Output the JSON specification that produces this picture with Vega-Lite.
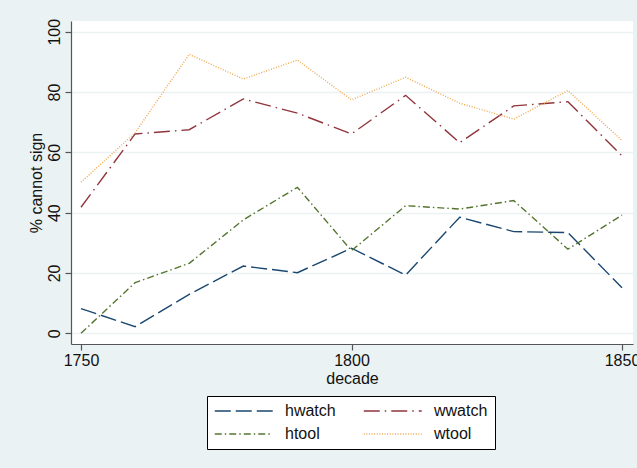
{
  "$schema": "https://vega.github.io/schema/vega-lite/v6.json",
  "width": 562,
  "height": 323,
  "autosize": {"type": "none"},
  "padding": {"left": 71, "top": 21, "right": 4, "bottom": 124},
  "background": "#EAF2F3",
  "config": {
    "font": "Liberation Sans",
    "view": {"fill": "white", "stroke": null},
    "axis": {
      "labelFont": "Liberation Sans",
      "titleFont": "Liberation Sans",
      "labelFontSize": 16,
      "titleFontSize": 16,
      "labelColor": "#111111",
      "titleColor": "#111111",
      "titleFontWeight": "normal",
      "domainColor": "#555555",
      "tickColor": "#555555",
      "domainWidth": 1.2,
      "tickWidth": 1.2,
      "tickSize": 6
    },
    "legend": {
      "labelFont": "Liberation Sans",
      "labelFontSize": 16,
      "labelColor": "#111111"
    }
  },
  "data": {
    "values": [
      {"decade": 1750, "series": "hwatch", "value": 8.2},
      {"decade": 1760, "series": "hwatch", "value": 2.2},
      {"decade": 1770, "series": "hwatch", "value": 12.9},
      {"decade": 1780, "series": "hwatch", "value": 22.3},
      {"decade": 1790, "series": "hwatch", "value": 20.1},
      {"decade": 1800, "series": "hwatch", "value": 28.2},
      {"decade": 1810, "series": "hwatch", "value": 19.3},
      {"decade": 1820, "series": "hwatch", "value": 38.5},
      {"decade": 1830, "series": "hwatch", "value": 33.7},
      {"decade": 1840, "series": "hwatch", "value": 33.4},
      {"decade": 1850, "series": "hwatch", "value": 15.1},
      {"decade": 1750, "series": "wwatch", "value": 41.8},
      {"decade": 1760, "series": "wwatch", "value": 66.1},
      {"decade": 1770, "series": "wwatch", "value": 67.5},
      {"decade": 1780, "series": "wwatch", "value": 77.7},
      {"decade": 1790, "series": "wwatch", "value": 73.0},
      {"decade": 1800, "series": "wwatch", "value": 66.1},
      {"decade": 1810, "series": "wwatch", "value": 78.9},
      {"decade": 1820, "series": "wwatch", "value": 63.2},
      {"decade": 1830, "series": "wwatch", "value": 75.4},
      {"decade": 1840, "series": "wwatch", "value": 76.8},
      {"decade": 1850, "series": "wwatch", "value": 58.8},
      {"decade": 1750, "series": "htool", "value": 0.0},
      {"decade": 1760, "series": "htool", "value": 16.8},
      {"decade": 1770, "series": "htool", "value": 23.2},
      {"decade": 1780, "series": "htool", "value": 37.6},
      {"decade": 1790, "series": "htool", "value": 48.4},
      {"decade": 1800, "series": "htool", "value": 27.4},
      {"decade": 1810, "series": "htool", "value": 42.3},
      {"decade": 1820, "series": "htool", "value": 41.2},
      {"decade": 1830, "series": "htool", "value": 44.0},
      {"decade": 1840, "series": "htool", "value": 27.9},
      {"decade": 1850, "series": "htool", "value": 39.2},
      {"decade": 1750, "series": "wtool", "value": 50.1},
      {"decade": 1760, "series": "wtool", "value": 66.5},
      {"decade": 1770, "series": "wtool", "value": 92.5},
      {"decade": 1780, "series": "wtool", "value": 84.3},
      {"decade": 1790, "series": "wtool", "value": 90.6},
      {"decade": 1800, "series": "wtool", "value": 77.4},
      {"decade": 1810, "series": "wtool", "value": 84.9},
      {"decade": 1820, "series": "wtool", "value": 76.3},
      {"decade": 1830, "series": "wtool", "value": 71.0},
      {"decade": 1840, "series": "wtool", "value": 80.5},
      {"decade": 1850, "series": "wtool", "value": 63.9}
    ]
  },
  "mark": {"type": "line", "strokeWidth": 1.4},
  "encoding": {
    "x": {
      "field": "decade",
      "type": "quantitative",
      "scale": {"domain": [1748.15, 1852.03], "nice": false, "zero": false},
      "axis": {
        "values": [1750, 1800, 1850],
        "format": "d",
        "grid": false,
        "title": "decade",
        "labelPadding": 2,
        "titlePadding": 2
      }
    },
    "y": {
      "field": "value",
      "type": "quantitative",
      "scale": {"domain": [-3.55, 103.55], "nice": false, "zero": false},
      "axis": {
        "values": [0, 20, 40, 60, 80, 100],
        "grid": true,
        "gridColor": "#EAF2F3",
        "gridWidth": 1.5,
        "labelAngle": -90,
        "labelPadding": 3,
        "title": "% cannot sign",
        "titlePadding": 2
      }
    },
    "color": {
      "field": "series",
      "type": "nominal",
      "scale": {
        "domain": ["hwatch", "wwatch", "htool", "wtool"],
        "range": ["#1a476f", "#90353b", "#55752f", "#f0a850"]
      },
      "legend": {
        "title": null,
        "orient": "none",
        "legendX": 136,
        "legendY": 375,
        "columns": 2,
        "direction": "horizontal",
        "symbolType": "M-1,0H7",
        "symbolSize": 210,
        "symbolStrokeWidth": 1.4,
        "symbolFillColor": "transparent",
        "labelOffset": 55,
        "columnPadding": 24,
        "rowPadding": 7,
        "padding": 7,
        "strokeColor": "#000000",
        "fillColor": "white",
        "cornerRadius": 0
      }
    },
    "strokeDash": {
      "field": "series",
      "type": "nominal",
      "scale": {
        "domain": ["hwatch", "wwatch", "htool", "wtool"],
        "range": [[16, 5], [16, 5, 1.5, 5], [7, 3, 1.5, 3], [1, 1.6]]
      },
      "legend": {
        "title": null,
        "orient": "none",
        "legendX": 136,
        "legendY": 375,
        "columns": 2,
        "direction": "horizontal",
        "symbolType": "M-1,0H7",
        "symbolSize": 210,
        "symbolStrokeWidth": 1.4,
        "symbolFillColor": "transparent",
        "labelOffset": 55,
        "columnPadding": 24,
        "rowPadding": 7,
        "padding": 7,
        "strokeColor": "#000000",
        "fillColor": "white",
        "cornerRadius": 0
      }
    }
  }
}
